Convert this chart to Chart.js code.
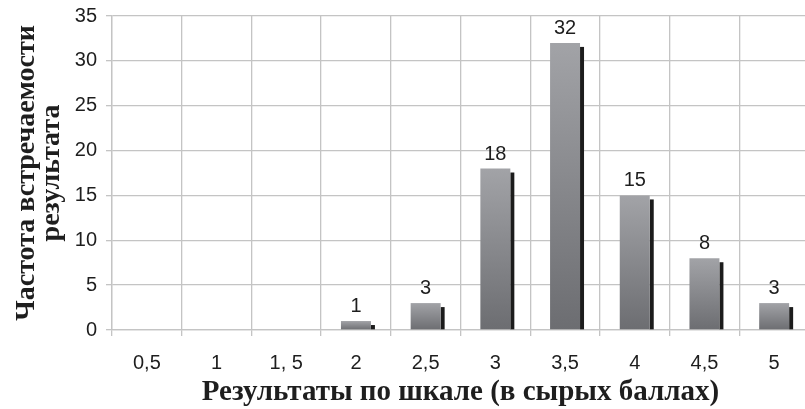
<!DOCTYPE html>
<html>
<head>
<meta charset="utf-8">
<script src="https://cdn.jsdelivr.net/npm/chart.js@4/dist/chart.umd.min.js"></script>
<style>
html,body{margin:0;padding:0;background:#fff;overflow:hidden;width:805px;height:409px;}
canvas{display:block;}
</style>
</head>
<body>
<canvas id="c" width="812" height="409"></canvas>
<script>
const categories = ["0,5", "1", "1, 5", "2", "2,5", "3", "3,5", "4", "4,5", "5"];
const frequencies = [0, 0, 0, 1, 3, 18, 32, 15, 8, 3];
const yTicks = [0, 5, 10, 15, 20, 25, 30, 35];
const xTitle = "Результаты по шкале (в сырых баллах)";
const yTitle = ["Частота встречаемости", "результата"];

const gridColor = "#c4c4c4";
const textColor = "#1e1e1e";
const tickFont = { family: "'Liberation Sans', Arial, sans-serif", size: 20 };
const serif = "'Liberation Serif', 'Times New Roman', serif";

const shadowPlugin = {
  id: "barShadow",
  beforeDatasetsDraw(chart) {
    const ctx = chart.ctx;
    const meta = chart.getDatasetMeta(0);
    ctx.save();
    ctx.fillStyle = "#1c1c1c";
    meta.data.forEach((el, i) => {
      if (!frequencies[i]) return;
      const p = el.getProps(["x", "y", "base", "width"], true);
      const top = p.y + 4;
      if (p.base - top > 0) ctx.fillRect(p.x + p.width / 2, top, 4, p.base - top);
    });
    ctx.restore();
  }
};

const labelPlugin = {
  id: "valueLabels",
  afterDatasetsDraw(chart) {
    const ctx = chart.ctx;
    const meta = chart.getDatasetMeta(0);
    ctx.save();
    ctx.font = "20px 'Liberation Sans', Arial, sans-serif";
    ctx.fillStyle = textColor;
    ctx.textAlign = "center";
    ctx.textBaseline = "alphabetic";
    meta.data.forEach((el, i) => {
      if (!frequencies[i]) return;
      const p = el.getProps(["x", "y"], true);
      ctx.fillText(String(frequencies[i]), p.x, p.y - 9);
    });
    ctx.restore();
  }
};

new Chart(document.getElementById("c"), {
  type: "bar",
  data: {
    labels: categories,
    datasets: [{
      data: frequencies,
      backgroundColor(context) {
        const chart = context.chart;
        if (!chart.chartArea || !context.raw) return "#8a8b8f";
        const ys = chart.scales.y;
        const top = ys.getPixelForValue(context.raw);
        const bottom = ys.getPixelForValue(0);
        const g = chart.ctx.createLinearGradient(0, top, 0, bottom);
        g.addColorStop(0, "#a2a3a7");
        g.addColorStop(1, "#6c6d71");
        return g;
      },
      borderWidth: 0,
      categoryPercentage: 1,
      barPercentage: 0.43
    }]
  },
  options: {
    responsive: false,
    animation: false,
    layout: { padding: { top: 16, right: 3, left: 0, bottom: 0 } },
    plugins: { legend: { display: false }, tooltip: { enabled: false } },
    scales: {
      x: {
        grid: { color: gridColor, lineWidth: 1.3, tickLength: 6, offset: true, drawTicks: true },
        border: { color: gridColor, width: 1.3 },
        ticks: { color: textColor, font: tickFont, padding: 15, maxRotation: 0, autoSkip: false },
        title: {
          display: true, text: xTitle, color: textColor,
          font: { family: serif, size: 29, weight: "bold", lineHeight: 0.9 },
          padding: { top: 0, bottom: 3 }
        },
        afterFit(scale) { scale.height = 79; }
      },
      y: {
        min: 0, max: 35,
        afterBuildTicks(scale) { scale.ticks = yTicks.map(v => ({ value: v })); },
        grid: { color: gridColor, lineWidth: 1.3, tickLength: 6 },
        border: { color: gridColor, width: 1.3 },
        ticks: { color: textColor, font: tickFont, padding: 9 },
        title: {
          display: true, text: yTitle, color: textColor,
          font: { family: serif, size: 28, weight: "bold", lineHeight: 0.9 },
          padding: { top: 14, bottom: 0 }
        },
        afterFit(scale) { scale.width = 112; scale.paddingTop = 0; scale.paddingBottom = 0; }
      }
    }
  },
  plugins: [shadowPlugin, labelPlugin]
});
</script>
</body>
</html>
